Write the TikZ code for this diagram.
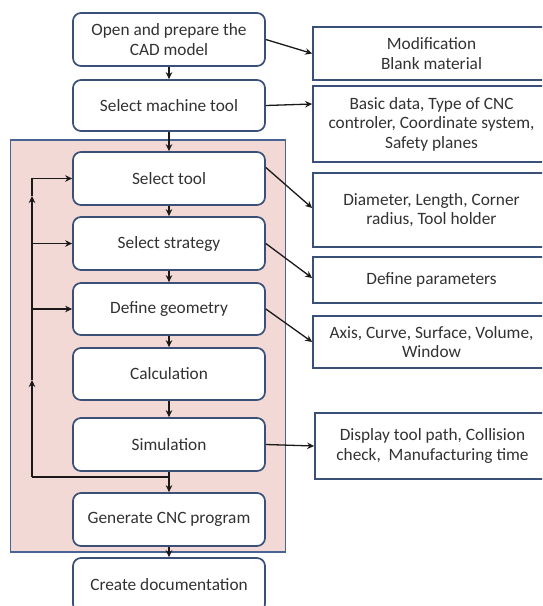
\documentclass[tikz,border=0pt]{standalone}
\usepackage{fontspec}
\setmainfont{Carlito}
\usetikzlibrary{arrows.meta}
\definecolor{edge}{RGB}{58,80,120}
\definecolor{frame}{RGB}{72,100,148}
\definecolor{pinkfill}{RGB}{242,217,214}
\definecolor{ink}{RGB}{50,50,50}
\definecolor{wire}{RGB}{25,25,25}
\begin{document}
\begin{tikzpicture}[x=1pt,y=-1pt,
  stepbox/.style={draw=edge, line width=1.7pt, fill=white, rounded corners=8pt,
    minimum width=192pt, inner sep=0pt, align=center, text=ink,
    font=\fontsize{17.3}{20}\selectfont},
  infobox/.style={draw=edge, line width=1.7pt, fill=white,
    minimum width=237pt, inner sep=0pt, align=center, text=ink,
    font=\fontsize{17.3}{19.5}\selectfont},
  flow/.style={draw=wire, line width=1.3pt, -{Stealth[length=7pt,width=6.5pt]}},
  wireline/.style={draw=wire, line width=1.3pt}
]
\useasboundingbox (0,0) rectangle (542,606);
\clip (0,0) rectangle (542,606);

% shaded frame round the tool-path loop
\draw[draw=frame, fill=pinkfill, line width=1.7pt] (10.5,140) rectangle (285.5,552);

% main process steps
\node[stepbox, minimum height=53pt] (b1) at (169,39.5) {Open and prepare the\\CAD model};
\node[stepbox, minimum height=51pt] (b2) at (169,105.5) {Select machine tool};
\node[stepbox, minimum height=53pt] (b3) at (169,178.5) {Select tool};
\node[stepbox, minimum height=53pt] (b4) at (169,243.5) {Select strategy};
\node[stepbox, minimum height=52pt] (b5) at (169,309) {Define geometry};
\node[stepbox, minimum height=52pt] (b6) at (169,374) {Calculation};
\node[stepbox, minimum height=53pt] (b7) at (169,444.5) {Simulation};
\node[stepbox, minimum height=53pt] (b8) at (169,519.5) {Generate CNC program};
\node[stepbox, minimum height=54pt] (b9) at (169,585) {Create documentation};

% details for each step
\node[infobox, minimum height=53pt] (r1) at (431.5,53.5) {Modification\\Blank material};
\node[infobox, minimum height=76pt] (r2) at (431.5,124) {Basic data, Type of CNC\\controler, Coordinate system,\\Safety planes};
\node[infobox, minimum height=74pt] (r3) at (431.5,210) {Diameter, Length, Corner\\radius, Tool holder};
\node[infobox, minimum height=46pt] (r4) at (431.5,280) {Define parameters};
\node[infobox, minimum height=52pt] (r5) at (431.5,342) {Axis, Curve, Surface, Volume,\\Window};
\node[infobox, minimum height=66pt, minimum width=235pt] (r6) at (432.5,446) {Display tool path, Collision\\check,\ \ Manufacturing time};

% downward flow
\draw[flow] (b1) -- (b2);
\draw[flow] (b2) -- (b3);
\draw[flow] (b3) -- (b4);
\draw[flow] (b4) -- (b5);
\draw[flow] (b5) -- (b6);
\draw[flow] (b6) -- (b7);
\draw[flow] (b7) -- (b8);
\draw[flow] (b8) -- (b9);

% links to the detail boxes
\draw[flow] (b1.east) -- (r1.west);
\draw[flow] (b2.east) -- ([yshift=20pt]r2.west);
\draw[flow] ([yshift=11pt]b3.east) -- ([yshift=2pt]r3.west);
\draw[flow] (b4.east) -- ([yshift=2pt]r4.west);
\draw[flow] (b5.east) -- (r5.west);
\draw[flow] (b7.east) -- (r6.west);

% feedback loop after simulation
\coordinate (join) at (169,477);
\coordinate (loop) at (32,477);
\coordinate (upA) at (32,380);
\coordinate (upB) at (32,196);
\draw[wireline] (join) -- (loop);
\draw[flow] (loop) -- (upA);
\draw[flow] (upA) -- (upB);
\draw[flow] (upB) |- (b3.west);
\draw[flow] (loop |- b4.west) -- (b4.west);
\draw[flow] (loop |- b5.west) -- (b5.west);
\end{tikzpicture}
\end{document}
